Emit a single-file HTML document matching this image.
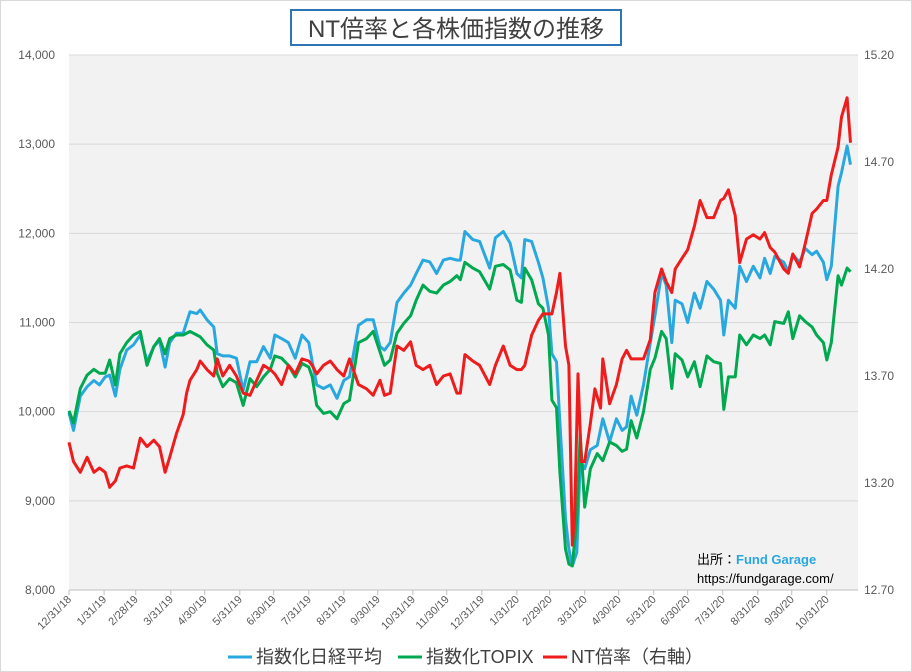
<!DOCTYPE html>
<html><head><meta charset="utf-8"><style>
body{margin:0;background:#fff;}
svg{display:block;font-family:"Liberation Sans","Noto Sans CJK JP",sans-serif;}
</style></head><body>
<svg id="chart" width="912" height="672" viewBox="0 0 912 672">
<rect x="0.5" y="0.5" width="911" height="671" fill="#fff" stroke="#d9d9d9"/>
<rect x="291" y="10" width="330" height="35" fill="#fff" stroke="#2e75b6" stroke-width="2"/>
<text x="456" y="37" text-anchor="middle" font-size="24" fill="#404040">NT倍率と各株価指数の推移</text>
<rect x="69" y="55" width="789" height="535" fill="#f2f2f2"/>
<g id="grid"></g><g id="axes"></g><g id="series"></g>
<text x="697" y="564" font-size="13" fill="#000">出所：<tspan fill="#29a8e0" font-weight="bold">Fund Garage</tspan></text>
<text x="697" y="583" font-size="13" fill="#000">https://fundgarage.com/</text>
<g>
<line x1="228" y1="657" x2="252" y2="657" stroke="#29a8e0" stroke-width="3"/>
<text x="256" y="663" font-size="18" fill="#404040">指数化日経平均</text>
<line x1="398" y1="657" x2="422" y2="657" stroke="#00a84f" stroke-width="3"/>
<text x="426" y="663" font-size="18" fill="#404040">指数化TOPIX</text>
<line x1="543" y1="657" x2="567" y2="657" stroke="#ee1c1c" stroke-width="3"/>
<text x="571" y="663" font-size="18" fill="#404040">NT倍率（右軸）</text>
</g>
</svg>
<script>
const leftTicks=[8000,9000,10000,11000,12000,13000,14000];
const rightTicks=[12.70,13.20,13.70,14.20,14.70,15.20];
const xTickDays=[0,31,59,90,120,151,181,212,243,273,304,334,365,396,425,456,486,517,547,578,609,639,670];
const xTickLabels=["12/31/18","1/31/19","2/28/19","3/31/19","4/30/19","5/31/19","6/30/19","7/31/19","8/31/19","9/30/19","10/31/19","11/30/19","12/31/19","1/31/20","2/29/20","3/31/20","4/30/20","5/31/20","6/30/20","7/31/20","8/31/20","9/30/20","10/31/20"];
const days=[0,4,10,16,22,27,32,36,41,45,51,57,63,69,75,80,85,89,95,101,107,113,116,122,128,131,136,142,148,154,160,166,172,178,182,188,194,200,206,212,215,219,225,231,237,243,248,256,263,269,275,279,284,290,296,302,307,313,319,325,331,337,343,
346,350,357,363,372,377,384,390,396,400,403,409,415,419,424,427,431,434,439,442,445,449,452,456,461,467,472,478,484,489,493,497,502,508,514,518,524,528,533,536,542,547,553,558,564,570,576,579,583,589,593,599,605,611,615,620,624,632,636,640,646,651,657,661,667,670,674,680,683,688,691];
const nikkei=[9990,9790,10175,10280,10350,10300,10390,10410,10175,10475,10690,10750,10860,10560,10730,10800,10500,10775,10880,10880,11120,11100,11140,11030,10950,10650,10625,10625,10600,10240,10560,10560,10730,10600,10860,10820,10775,10600,10860,10775,10560,10300,10260,10300,10150,10350,10390,10970,11030,11030,10730,10690,10775,11225,11330,11420,11550,11700,11680,11550,11700,11720,11700,
11700,12020,11930,11910,11610,11950,12020,11890,11550,11500,11930,11910,11675,11500,11160,10650,10560,9875,8800,8460,8270,8420,9450,9360,9575,9620,9920,9660,9920,9790,9830,10175,9960,10300,10775,11075,11550,11420,10775,11250,11210,11000,11330,11160,11460,11375,11250,10860,11250,11160,11630,11460,11630,11500,11720,11550,11740,11675,11570,11760,11675,11830,11760,11800,11675,11480,11630,12530,12680,12980,12770];
const topix=[10010,9875,10260,10410,10475,10430,10430,10580,10300,10650,10775,10860,10900,10520,10730,10820,10650,10820,10860,10860,10900,10860,10840,10750,10690,10430,10280,10370,10325,10070,10370,10280,10390,10475,10625,10600,10520,10390,10540,10500,10390,10070,9980,10000,9920,10090,10130,10775,10820,10900,10670,10520,10580,10880,10990,11075,11250,11420,11350,11330,11420,11460,11525,
11480,11675,11610,11570,11375,11630,11650,11590,11250,11225,11610,11480,11210,11160,10860,10130,10045,9320,8460,8290,8270,8800,9750,8930,9360,9530,9450,9660,9620,9555,9580,9900,9705,10000,10475,10600,10900,10820,10260,10650,10580,10390,10560,10280,10625,10560,10540,10025,10390,10390,10860,10750,10860,10820,10860,10750,11010,10990,11120,10820,11075,11010,10950,10860,10775,10580,10775,11525,11420,11610,11570];
const ntDays=[0,4,10,16,22,27,32,36,41,45,51,57,63,69,75,80,85,89,95,101,104,107,113,116,122,128,131,136,142,148,154,160,166,172,178,182,188,194,200,206,212,215,219,225,231,237,243,248,256,263,269,275,279,284,290,296,302,307,313,319,325,331,337,343,
346,350,357,363,372,377,384,390,396,400,403,409,415,419,424,427,431,434,439,442,445,447,450,453,456,461,465,470,472,478,484,489,493,497,502,508,514,518,524,528,533,536,542,547,553,558,564,570,576,579,583,589,593,599,605,611,615,620,624,632,636,640,646,651,657,661,667,670,674,680,683,688,691];
const ntRatio=[13.39,13.30,13.25,13.32,13.25,13.27,13.25,13.18,13.21,13.27,13.28,13.27,13.41,13.37,13.40,13.37,13.25,13.32,13.43,13.52,13.62,13.68,13.73,13.77,13.73,13.70,13.78,13.70,13.75,13.70,13.62,13.61,13.68,13.75,13.73,13.71,13.66,13.75,13.71,13.78,13.77,13.75,13.71,13.75,13.77,13.73,13.70,13.78,13.66,13.64,13.61,13.68,13.61,13.62,13.84,13.82,13.86,13.75,13.73,13.75,13.66,13.70,13.71,13.62,
13.62,13.80,13.77,13.75,13.66,13.75,13.84,13.75,13.73,13.73,13.75,13.89,13.96,13.99,13.99,13.99,14.09,14.18,13.84,13.75,12.91,13.04,13.71,13.30,13.30,13.48,13.64,13.55,13.78,13.57,13.66,13.78,13.82,13.78,13.78,13.78,13.87,14.09,14.20,14.14,14.09,14.20,14.25,14.29,14.40,14.52,14.44,14.44,14.52,14.53,14.57,14.45,14.23,14.34,14.36,14.34,14.37,14.30,14.28,14.20,14.18,14.27,14.21,14.32,14.46,14.48,14.52,14.52,14.64,14.77,14.91,15.00,14.79];

const NS='http://www.w3.org/2000/svg';
const X0=69,X1=858,Y0=590,Y1=55,DPX=1.131;
function xS(d){return X0+d*DPX;}
function yL(v){return Y0-(v-8000)/6000*(Y0-Y1);}
function yR(v){return Y0-(v-12.7)/2.5*(Y0-Y1);}
function mk(tag,attrs,parent){const e=document.createElementNS(NS,tag);for(const k in attrs)e.setAttribute(k,attrs[k]);parent.appendChild(e);return e;}
const grid=document.getElementById('grid'),axes=document.getElementById('axes'),ser=document.getElementById('series');
leftTicks.forEach(v=>{
  const g=mk('line',{x1:X0,x2:X1,y1:yL(v),y2:yL(v),stroke:'#d9d9d9','stroke-width':1},grid);
  
  
  const t=mk('text',{x:55,y:yL(v)+4,'text-anchor':'end','font-size':12,fill:'#595959'},axes);
  t.textContent=v.toLocaleString('en-US');
  
  
});
rightTicks.forEach(v=>{
  const t=mk('text',{x:864,y:yR(v)+4,'font-size':12,fill:'#595959'},axes);
  t.textContent=v.toFixed(2);
  
  
});
const ax=mk('line',{x1:X0,x2:X1,y1:Y0,y2:Y0,stroke:'#bfbfbf'},axes);


xTickDays.forEach((d,i)=>{
  const x=xS(d);
  const tk=mk('line',{x1:x,x2:x,y1:Y0,y2:Y0+5,stroke:'#bfbfbf'},axes);
  
  
  const t=mk('text',{x:x+3,y:Y0+10,'text-anchor':'end','font-size':11,fill:'#595959',transform:`rotate(-45 ${x+3} ${Y0+10})`},axes);
  t.textContent=xTickLabels[i];
  
  
});
function line(ds,vals,yf,color,name){
  const p=vals.map((v,i)=>(i?'L':'M')+xS(ds[i]).toFixed(1)+','+yf(v).toFixed(1)).join('');
  const e=mk('path',{d:p,fill:'none',stroke:color,'stroke-width':3,'stroke-linejoin':'round'},ser);
  
  
}
line(days,nikkei,yL,'#29a8e0','nikkei-line');
line(days,topix,yL,'#00a84f','topix-line');
line(ntDays,ntRatio,yR,'#ee1c1c','nt-ratio-line');
</script>
</body></html>
